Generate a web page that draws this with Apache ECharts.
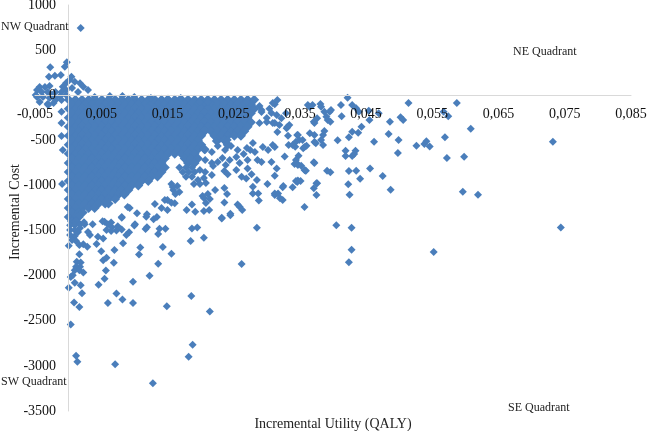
<!DOCTYPE html>
<html>
<head>
<meta charset="utf-8">
<script src="https://cdn.jsdelivr.net/npm/echarts@6/dist/echarts.min.js"></script>
<style>
  html, body { margin: 0; padding: 0; background: #fff; }
  #chart { width: 647px; height: 431px; }
</style>
</head>
<body>
<div id="chart"></div>
<script>
const xTicks = [-0.005, 0.005, 0.015, 0.025, 0.035, 0.045, 0.055, 0.065, 0.075, 0.085];

// points around and above the zero cost line
const topPoints = [[0.0019,745],[-0.0002,365],[-0.0005,316],[-0.0027,309],[-0.0029,205],[-0.0020,216],[-0.0011,224],[0.0005,205],[0.0002,169],[0.0010,150],[0.0018,132],[0.0023,94],[0.0030,58],
  [-0.0047,58],[-0.0040,35],[-0.0031,35],[-0.0025,2],[-0.0047,-20],[-0.0038,-20],[-0.0028,-31],[-0.0019,-31],[-0.0043,-75],[-0.0031,-98],[-0.0049,2],[-0.0035,91],[-0.0043,91],[-0.0028,102],[-0.0019,35],[-0.0012,-9],[-0.0022,-87],[-0.0010,-53],[-0.0030,-109],[-0.0008,94],[-0.0003,58],[-0.0003,2],[0.0006,80],[0.0015,35],[-0.0010,35],[-0.0003,135],[-0.0019,-53],
  [-0.0010,-183],[-0.0010,-308],[-0.0010,-452],[-0.0008,-608],[-0.0009,-985],
  [0.0040,-20],[0.0063,-10],[0.0082,-10],[0.0100,-20],[0.0125,-30],[0.0150,-40],[0.0170,-30],[0.0199,-75],[0.0211,-75],[0.0269,-75],[0.0289,-120],[0.0312,-100],[0.0304,-150]];

// solid mass: single marks can't be told apart here, so these only estimate its outline and cover
const coreCost = [-50,-100,-150,-200,-250,-300,-350,-400,-450,-500,-550,-600,-650,-700,-750,-800,-850,-900,-950,-1000,-1050,-1100,-1150,-1200,-1250,-1300,-1350,-1400];
const coreUtility = [
  [0.0001,0.0011,0.0021,0.0031,0.0041,0.0051,0.0061,0.0071,0.0081,0.0091,0.0101,0.0111,0.0121,0.0131,0.0141,0.0151,0.0161,0.0171,0.0181,0.0191,0.0201,0.0211,0.0221,0.0231,0.0241,0.0251,0.0261,0.0271,0.0281],
  [0.0006,0.0016,0.0026,0.0036,0.0046,0.0056,0.0066,0.0076,0.0086,0.0096,0.0106,0.0116,0.0126,0.0136,0.0146,0.0156,0.0166,0.0176,0.0186,0.0196,0.0206,0.0216,0.0226,0.0236,0.0246,0.0256,0.0266,0.0276],
  [0.0001,0.0011,0.0021,0.0031,0.0041,0.0051,0.0061,0.0071,0.0081,0.0091,0.0101,0.0111,0.0121,0.0131,0.0141,0.0151,0.0161,0.0171,0.0181,0.0191,0.0201,0.0211,0.0221,0.0231,0.0241,0.0251,0.0261,0.0271,0.0281],
  [0.0006,0.0016,0.0026,0.0036,0.0046,0.0056,0.0066,0.0076,0.0086,0.0096,0.0106,0.0116,0.0126,0.0136,0.0146,0.0156,0.0166,0.0176,0.0186,0.0196,0.0206,0.0216,0.0226,0.0236,0.0246,0.0256,0.0266,0.0276],
  [0.0001,0.0011,0.0021,0.0031,0.0041,0.0051,0.0061,0.0071,0.0081,0.0091,0.0101,0.0111,0.0121,0.0131,0.0141,0.0151,0.0161,0.0171,0.0181,0.0191,0.0201,0.0211,0.0221,0.0231,0.0241,0.0251,0.0261,0.0271],
  [0.0006,0.0016,0.0026,0.0036,0.0046,0.0056,0.0066,0.0076,0.0086,0.0096,0.0106,0.0116,0.0126,0.0136,0.0146,0.0156,0.0166,0.0176,0.0186,0.0196,0.0206,0.0216,0.0226,0.0236,0.0246,0.0256,0.0266,0.0276],
  [0.0001,0.0011,0.0021,0.0031,0.0041,0.0051,0.0061,0.0071,0.0081,0.0091,0.0101,0.0111,0.0121,0.0131,0.0141,0.0151,0.0161,0.0171,0.0181,0.0191,0.0201,0.0211,0.0221,0.0231,0.0241,0.0251,0.0261,0.0271],
  [0.0006,0.0016,0.0026,0.0036,0.0046,0.0056,0.0066,0.0076,0.0086,0.0096,0.0106,0.0116,0.0126,0.0136,0.0146,0.0156,0.0166,0.0176,0.0186,0.0196,0.0206,0.0216,0.0226,0.0236,0.0246,0.0256,0.0266],
  [0.0001,0.0011,0.0021,0.0031,0.0041,0.0051,0.0061,0.0071,0.0081,0.0091,0.0101,0.0111,0.0121,0.0131,0.0141,0.0151,0.0161,0.0171,0.0181,0.0191,0.0201,0.0221,0.0231,0.0241,0.0251,0.0261],
  [0.0006,0.0016,0.0026,0.0036,0.0046,0.0056,0.0066,0.0076,0.0086,0.0096,0.0106,0.0116,0.0126,0.0136,0.0146,0.0156,0.0166,0.0176,0.0186,0.0196,0.0226,0.0236],
  [0.0001,0.0011,0.0021,0.0031,0.0041,0.0051,0.0061,0.0071,0.0081,0.0091,0.0101,0.0111,0.0121,0.0131,0.0141,0.0151,0.0161,0.0171,0.0181,0.0191,0.0201,0.0241],
  [0.0006,0.0016,0.0026,0.0036,0.0046,0.0056,0.0066,0.0076,0.0086,0.0096,0.0106,0.0116,0.0126,0.0136,0.0146,0.0156,0.0166,0.0176,0.0186,0.0196,0.0206],
  [0.0001,0.0011,0.0021,0.0031,0.0041,0.0051,0.0061,0.0071,0.0081,0.0091,0.0101,0.0111,0.0121,0.0131,0.0141,0.0151,0.0161,0.0171,0.0181,0.0191],
  [0.0006,0.0016,0.0026,0.0036,0.0046,0.0056,0.0066,0.0076,0.0086,0.0096,0.0106,0.0116,0.0126,0.0136,0.0146,0.0176,0.0186,0.0196],
  [0.0001,0.0011,0.0021,0.0031,0.0041,0.0051,0.0061,0.0071,0.0081,0.0091,0.0101,0.0111,0.0121,0.0131,0.0141,0.0181,0.0191],
  [0.0006,0.0016,0.0026,0.0036,0.0046,0.0056,0.0066,0.0076,0.0086,0.0096,0.0106,0.0116,0.0126,0.0136,0.0146],
  [0.0001,0.0011,0.0021,0.0031,0.0041,0.0051,0.0061,0.0071,0.0081,0.0091,0.0101,0.0111,0.0121,0.0131,0.0141],
  [0.0006,0.0016,0.0026,0.0036,0.0046,0.0056,0.0066,0.0076,0.0086,0.0096,0.0106,0.0116,0.0126,0.0135],
  [0.0001,0.0011,0.0021,0.0031,0.0041,0.0051,0.0061,0.0071,0.0081,0.0091,0.0101,0.0111,0.0121],
  [0.0006,0.0016,0.0026,0.0036,0.0046,0.0056,0.0066,0.0076,0.0086,0.0096,0.0106],
  [0.0001,0.0011,0.0021,0.0031,0.0041,0.0051,0.0061,0.0071,0.0081,0.0091],
  [0.0006,0.0016,0.0026,0.0036,0.0046,0.0056,0.0066,0.0076,0.0085],
  [0.0001,0.0011,0.0021,0.0031,0.0041,0.0051,0.0061,0.0071],
  [0.0006,0.0016,0.0026,0.0036,0.0046,0.0056,0.0061],
  [0.0001,0.0011,0.0021,0.0031,0.0040],
  [0.0006,0.0016,0.0022],
  [0.0001,0.0011,0.0016],
  [0.0006,0.0012]
];

// marks that can still be read one by one, right of and below the mass
const sparseRight = [[0.0422,-28],[0.0412,-109],[0.0413,-234],[0.0514,-87],[0.0587,-87],[0.0567,-183],[0.0574,-234],[0.0502,-245],[0.0506,-275],[0.0486,-294],[0.0454,-172],[0.0455,-275],[0.0443,-349],[0.0438,-416],[0.0429,-405],[0.0424,-467],[0.0407,-500],[0.0462,-516],[0.0484,-430],[0.0499,-497],[0.0526,-560],[0.0538,-541],[0.0541,-511],[0.0546,-567],[0.0569,-467],[0.0608,-372],[0.0598,-682],[0.0572,-696],[0.0498,-641],[0.0732,-516],[0.0419,-615],[0.0419,-674],[0.0429,-674],[0.0434,-615],[0.0432,-652],[0.0391,-837],[0.0396,-855],[0.0424,-841],[0.0435,-837],[0.0456,-811],[0.0475,-896],[0.0441,-926],[0.0423,-988],[0.0487,-1048],[0.0425,-1103],[0.0596,-1070],[0.0619,-1103],[0.0429,-109],[0.0435,-145],[0.0439,-183],[0.0395,-183],[0.0382,-128],[0.0387,-183],[0.0392,-275],[0.0385,-441],[0.0385,-552],[0.0405,-1440],[0.0428,-1470],[0.0428,-1713],[0.0424,-1850],[0.0552,-1739],[0.0744,-1465],[0.0469,-200]];

const sparseMiddle = [[0.0371,-744],[0.0359,-837],[0.0352,-782],[0.0348,-671],[0.0344,-719],[0.0342,-763],[0.0327,-678],[0.0347,-944],[0.0376,-977],[0.0387,-397],[0.0382,-497],[0.0374,-533],[0.0365,-422],[0.0372,-441],[0.0360,-560],[0.0355,-589],[0.0347,-441],[0.0349,-497],[0.0354,-497],[0.0344,-516],[0.0333,-552],[0.0343,-571],[0.0334,-330],[0.0330,-367],[0.0332,-449],[0.0319,-330],[0.0371,-294],[0.0376,-256],[0.0390,-238],[0.0396,-294],[0.0397,-164],[0.0381,-98],[0.0369,-109],[0.0362,-109],[0.0329,-201],[0.0322,-256],
  [0.0292,-186],[0.0309,-308],[0.0300,-297],[0.0315,-220],[0.0316,-408],[0.0309,-552],[0.0294,-574],[0.0331,-353],[0.0346,-441],[0.0357,-574],[0.0339,-552],[0.0372,-308],[0.0365,-131],[0.0372,-519],[0.0345,-752],[0.0357,-830],[0.0372,-752],[0.0346,-963],[0.0339,-1019],[0.0324,-1019],[0.0301,-985],[0.0285,-940],[0.0312,-1107],[0.0324,-1162],[0.0357,-1240],
  [0.0217,-752],[0.0233,-696],[0.0254,-685],[0.0270,-585],[0.0279,-530],[0.0312,-574],[0.0307,-741],[0.0292,-741],[0.0309,-87],[0.0292,-164],[0.0316,-53],[0.0312,-308],[0.0300,-253],[0.0307,-197],[0.0289,-308],
  [0.0219,-785],[0.0236,-840],[0.0241,-877],[0.0254,-830],[0.0262,-904],[0.0271,-811],[0.0269,-922],[0.0277,-877],[0.0279,-1015],[0.0279,-1088],[0.0287,-1088],[0.0288,-1166],[0.0315,-811],[0.0312,-893],[0.0325,-1007],[0.0344,-952],[0.0351,-952],[0.0358,-833],[0.0347,-774],[0.0312,-1088],[0.0317,-1088],[0.0320,-1143],[0.0375,-977],[0.0371,-1032],[0.0375,-1107],
  [0.0222,-1051],[0.0236,-1029],[0.0240,-1096],[0.0236,-1188],[0.0187,-1210],[0.0179,-1273],[0.0192,-1292],[0.0205,-1284],[0.0213,-1273],[0.0156,-1192],[0.0259,-1236],[0.0263,-1273],[0.0256,-1210],[0.0245,-1314],[0.0232,-1358],
  [0.0168,-800],[0.0178,-800],[0.0187,-800],[0.0173,-850],[0.0182,-850],[0.0191,-850],[0.0178,-905],[0.0187,-905],[0.0196,-940],[0.0205,-918],[0.0190,-985],[0.0199,-985],[0.0208,-974],[0.0156,-985],[0.0165,-1007],[0.0159,-1051],[0.0168,-1073],[0.0162,-1096],[0.0211,-1096],[0.0205,-1140],[0.0214,-1151],[0.0208,-1195],[0.0203,-1118],
  [0.0207,-608],[0.0217,-630],[0.0226,-563],[0.0237,-608],[0.0246,-563],[0.0256,-608],[0.0265,-652],[0.0207,-719],[0.0226,-741],[0.0244,-719],[0.0259,-752],[0.0238,-774],[0.0271,-719],[0.0282,-630],[0.0286,-719],[0.0223,-508],[0.0241,-497],[0.0275,-608],[0.0302,-608],[0.0199,-830],[0.0207,-852],[0.0217,-885]];

const sparseLow = [[0.0285,-1469],[0.0262,-1872],[0.0214,-2397],[0.0186,-2224],[0.0188,-2767],[0.0182,-2900],[0.0128,-3192],[0.0071,-2981],[0.0014,-2955],[0.0012,-2889],[0.0004,-2541],[0.0149,-2338],[0.0098,-2304],[0.0082,-2263],[0.0073,-2197],[0.0060,-2304],[0.0021,-2194],[0.0017,-2346],[0.0009,-2297],[0.0001,-2135],[0.0004,-2016],[0.0010,-2079],[0.0019,-2105],[0.0046,-2102],[0.0055,-2035],[0.0057,-1942],[0.0069,-1858],[0.0098,-2068],[0.0123,-2002],[0.0136,-1869],[0.0156,-1758],[0.0143,-1683],[0.0107,-1765],[0.0109,-1687],[0.0070,-1715],[0.0050,-1728],[0.0043,-1650],[0.0083,-1642],[0.0185,-1617],[0.0205,-1580],[0.0187,-1476],[0.0195,-1465],[0.0147,-1480],[0.0138,-1480],[0.0136,-1539],[0.0117,-1484],[0.0100,-1443],[0.0092,-1520],[0.0088,-1550],[0.0081,-1487],[0.0073,-1498],[0.0065,-1506],[0.0058,-1495],[0.0055,-1403],[0.0065,-1410],[0.0053,-1587],[0.0045,-1569],[0.0033,-1550],[0.0081,-1358],[0.0118,-1347],[0.0129,-1376],[0.0232,-1365],[0.0245,-1329],[0.0053,-1828],[0.0058,-1802],[0.0017,-1764],[0.0013,-1846],[0.0019,-1853],[0.0012,-1902],[0.0018,-1902],[0.0010,-1939],[0.0017,-1939],[0.0023,-1964],[0.0007,-1994],[0.0023,-1653],[0.0029,-1680],[0.0001,-1669],[0.0017,-1661],
  [0.0003,-1440],[0.0010,-1440],[0.0003,-1495],[0.0010,-1495],[0.0003,-1550],[0.0010,-1561],[0.0006,-1606],[0.0012,-1617],[0.0018,-1429],[0.0025,-1429],[0.0018,-1473],[0.0024,-1407],[0.0030,-1517],[0.0015,-1517],
  [0.0052,-1396],[0.0060,-1429],[0.0066,-1462],[0.0075,-1451],[0.0101,-1429],[0.0119,-1318],[0.0119,-1462],[0.0081,-1351],[0.0093,-1251],[0.0104,-1307],[0.0131,-1207],[0.0141,-1251],[0.0134,-1351],[0.0150,-1162],[0.0150,-1273],[0.0161,-1196],[0.0146,-1162],[0.0037,-1429],[0.0158,-1018],[0.0090,-1240]];

let corePoints = [];
coreCost.forEach((cost, i) => {
    coreUtility[i].forEach(u => corePoints.push([u, cost]));
});

const serif = '"Liberation Serif", "Times New Roman", serif';
const markColor = '#4a7ebb';
let chart = echarts.init(document.getElementById('chart'), null, { renderer: 'canvas' });

function quadrantLabel(text, left, top) {
    return { type: 'text', left: left, top: top, z: 10, style: { text: text, font: '12px ' + serif, fill: '#222' } };
}

chart.setOption({
    animation: false,
    backgroundColor: '#fff',
    grid: { left: 35, right: 16, top: 5, bottom: 20, outerBoundsMode: 'none', containLabel: false },
    xAxis: {
        type: 'value',
        min: -0.005,
        max: 0.085,
        // the axes cross at (0, 0), labels have to travel with the lines
        offset: -315.8,
        z: 5,
        name: 'Incremental Utility (QALY)',
        nameLocation: 'middle',
        nameGap: 322,
        nameTextStyle: { fontFamily: serif, fontSize: 14, color: '#222' },
        axisLine: { onZero: false, lineStyle: { color: '#d9d9d9' } },
        axisTick: { show: false },
        splitLine: { show: false },
        axisLabel: {
            customValues: xTicks,
            margin: 12,
            fontFamily: serif,
            fontSize: 14,
            color: '#111',
            formatter: v => v.toFixed(3).replace('.', ',')
        }
    },
    yAxis: {
        type: 'value',
        min: -3500,
        max: 1000,
        interval: 500,
        offset: -33.1,
        z: 5,
        name: 'Incremental Cost',
        nameLocation: 'middle',
        nameGap: 46,
        nameMoveOverlap: false,
        nameTextStyle: { fontFamily: serif, fontSize: 14, color: '#222', padding: [0, 8, 0, 0] },
        axisLine: { onZero: false, lineStyle: { color: '#d9d9d9' } },
        axisTick: { show: false },
        splitLine: { show: false },
        axisLabel: { margin: 12, fontFamily: serif, fontSize: 14, color: '#111', showMinLabel: true, showMaxLabel: true, formatter: v => String(v) }
    },
    series: [{
        type: 'scatter',
        symbol: 'diamond',
        symbolSize: 10,
        itemStyle: { color: markColor, opacity: 1 },
        data: corePoints
    }, {
        type: 'scatter',
        symbol: 'diamond',
        symbolSize: 8,
        itemStyle: { color: markColor, opacity: 1 },
        data: topPoints.concat(sparseRight, sparseMiddle, sparseLow)
    }],
    graphic: [
        quadrantLabel('NW Quadrant', 1, 21),
        quadrantLabel('NE Quadrant', 513, 46),
        quadrantLabel('SW Quadrant', 1, 376),
        quadrantLabel('SE Quadrant', 508, 402)
    ]
});
</script>
</body>
</html>
